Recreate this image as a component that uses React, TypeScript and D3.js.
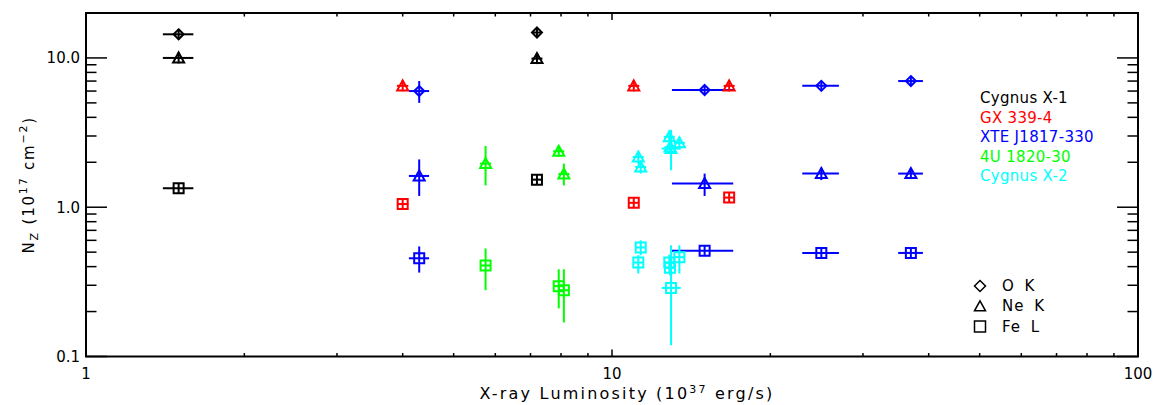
import React, { useEffect } from "react";
import * as d3 from "d3";

const sources = ["Cygnus X-1", "GX 339-4", "XTE J1817-330", "4U 1820-30", "Cygnus X-2"];
const sourceColors = ["#000000", "#ff0000", "#0000ff", "#00ff00", "#00ffff"];
const elementLabels = ["O K", "Ne K", "Fe L"];
const xTickLabels = ["1", "10", "100"];
const yTickLabels = ["0.1", "1.0", "10.0"];

// Row: [sourceIndex, L, Llo, Lhi, N, Nlo, Nhi]
type Row = [number, number, number, number, number, number, number];

const oxygenK: Row[] = [
  [0, 1.5, 1.4, 1.6, 14.4, 14.4, 14.4],
  [0, 7.2, 7.2, 7.2, 14.8, 14.8, 14.8],
  [2, 4.3, 4.11, 4.49, 6.0, 5.0, 7.0],
  [2, 15.0, 13.0, 17.0, 6.1, 5.9, 6.3],
  [2, 25.0, 23.0, 27.0, 6.5, 6.4, 6.6],
  [2, 37.0, 35.0, 39.0, 7.0, 6.9, 7.1],
];

const neonK: Row[] = [
  [0, 1.5, 1.4, 1.6, 10.0, 10.0, 10.0],
  [0, 7.2, 7.2, 7.2, 9.9, 9.9, 9.9],
  [1, 4.0, 3.9, 4.1, 6.5, 6.5, 6.5],
  [1, 11.0, 10.9, 11.1, 6.5, 6.5, 6.5],
  [1, 16.7, 16.6, 16.8, 6.5, 6.5, 6.5],
  [2, 4.3, 4.11, 4.49, 1.62, 1.19, 2.09],
  [2, 15.0, 13.0, 17.0, 1.44, 1.19, 1.68],
  [2, 25.0, 23.0, 27.0, 1.68, 1.52, 1.84],
  [2, 37.0, 35.0, 39.0, 1.68, 1.56, 1.82],
  [3, 5.75, 5.75, 5.75, 1.96, 1.4, 2.57],
  [3, 7.92, 7.92, 7.92, 2.37, 2.25, 2.5],
  [3, 8.1, 8.1, 8.1, 1.67, 1.4, 1.96],
  [4, 11.22, 11.22, 11.22, 2.17, 1.95, 2.35],
  [4, 11.34, 11.34, 11.34, 1.86, 1.68, 2.05],
  [4, 12.85, 12.85, 12.85, 2.96, 2.75, 3.2],
  [4, 12.89, 12.89, 12.89, 2.53, 2.35, 2.75],
  [4, 13.43, 13.43, 13.43, 2.7, 2.45, 2.95],
  [4, 12.95, 12.43, 13.51, 2.47, 1.77, 3.3],
];

const ironL: Row[] = [
  [0, 1.5, 1.4, 1.6, 1.34, 1.34, 1.34],
  [0, 7.2, 7.2, 7.2, 1.53, 1.53, 1.53],
  [1, 4.0, 3.9, 4.1, 1.05, 1.02, 1.08],
  [1, 11.0, 10.9, 11.1, 1.07, 1.03, 1.11],
  [1, 16.7, 16.6, 16.8, 1.16, 1.1, 1.22],
  [2, 4.3, 4.11, 4.49, 0.455, 0.365, 0.546],
  [2, 15.0, 13.0, 17.0, 0.51, 0.5, 0.52],
  [2, 25.0, 23.0, 27.0, 0.494, 0.485, 0.503],
  [2, 37.0, 35.0, 39.0, 0.494, 0.485, 0.503],
  [3, 5.75, 5.75, 5.75, 0.407, 0.278, 0.529],
  [3, 7.92, 7.92, 7.92, 0.296, 0.21, 0.384],
  [3, 8.1, 8.1, 8.1, 0.278, 0.169, 0.384],
  [4, 11.22, 11.22, 11.22, 0.426, 0.36, 0.477],
  [4, 11.34, 11.34, 11.34, 0.537, 0.477, 0.6],
  [4, 12.85, 12.85, 12.85, 0.426, 0.37, 0.48],
  [4, 12.89, 12.89, 12.89, 0.393, 0.35, 0.44],
  [4, 13.43, 13.43, 13.43, 0.463, 0.36, 0.556],
  [4, 12.95, 12.43, 13.51, 0.288, 0.119, 0.556],
];

const W = 1153;
const H = 405;
const M = { left: 86, right: 1138, top: 13, bottom: 356.5 };
const FONT = "'DejaVu Sans', sans-serif";

const diamond = (s: number) => `M0,${-s}L${s},0L0,${s}L${-s},0Z`;
const triangle = (s: number) => `M0,${-s}L${s},${s * 0.82}L${-s},${s * 0.82}Z`;
const square = (s: number) => `M${-s},${-s}H${s}V${s}H${-s}Z`;
const shapes = [diamond, triangle, square];

export default function App() {
  useEffect(() => {
    document.body.style.margin = "0";
  }, []);

  const x = d3.scaleLog().domain([1, 100]).range([M.left, M.right]);
  const y = d3.scaleLog().domain([0.1, 20]).range([M.bottom, M.top]);

  const xMajor = [1, 10, 100];
  const xMinor: number[] = [];
  [1, 10].forEach((d) => {
    for (let k = 2; k <= 9; k++) xMinor.push(d * k);
  });
  const yMajor = [0.1, 1, 10];
  const yMinor: number[] = [];
  [0.1, 1, 10].forEach((d) => {
    for (let k = 2; k <= 9; k++) if (d * k <= 20) yMinor.push(d * k);
  });

  const xLen = 7, xLenMinor = 3.5;
  const yLen = 21, yLenMinor = 10.5;

  const groups: Row[][] = [oxygenK, neonK, ironL];
  const symSize = [5, 5.5, 5];

  return (
    <svg width={W} height={H} style={{ position: "absolute", left: 0, top: 0, background: "#fff" }} fontFamily={FONT}>
      <rect x={0} y={0} width={W} height={H} fill="#fff" />
      {/* frame */}
      <rect x={M.left} y={M.top} width={M.right - M.left} height={M.bottom - M.top} fill="none" stroke="#000" strokeWidth={2} />
      {/* x ticks */}
      {xMajor.map((d) => (
        <g key={"xM" + d}>
          <line x1={x(d)} x2={x(d)} y1={M.bottom} y2={M.bottom - xLen} stroke="#000" strokeWidth={1.5} />
          <line x1={x(d)} x2={x(d)} y1={M.top} y2={M.top + xLen} stroke="#000" strokeWidth={1.5} />
        </g>
      ))}
      {xMinor.map((d) => (
        <g key={"xm" + d}>
          <line x1={x(d)} x2={x(d)} y1={M.bottom} y2={M.bottom - xLenMinor} stroke="#000" strokeWidth={1.5} />
          <line x1={x(d)} x2={x(d)} y1={M.top} y2={M.top + xLenMinor} stroke="#000" strokeWidth={1.5} />
        </g>
      ))}
      {yMajor.map((d) => (
        <g key={"yM" + d}>
          <line x1={M.left} x2={M.left + yLen} y1={y(d)} y2={y(d)} stroke="#000" strokeWidth={1.5} />
          <line x1={M.right} x2={M.right - yLen} y1={y(d)} y2={y(d)} stroke="#000" strokeWidth={1.5} />
        </g>
      ))}
      {yMinor.map((d) => (
        <g key={"ym" + d}>
          <line x1={M.left} x2={M.left + yLenMinor} y1={y(d)} y2={y(d)} stroke="#000" strokeWidth={1.5} />
          <line x1={M.right} x2={M.right - yLenMinor} y1={y(d)} y2={y(d)} stroke="#000" strokeWidth={1.5} />
        </g>
      ))}
      {/* tick labels */}
      {xMajor.map((d, i) => (
        <text key={"xl" + d} x={x(d)} y={379} textAnchor="middle" fontSize={15}>
          {xTickLabels[i]}
        </text>
      ))}
      {yMajor.map((d, i) => (
        <text key={"yl" + d} x={80} y={y(d) + 5.5} textAnchor="end" fontSize={15}>
          {yTickLabels[i]}
        </text>
      ))}
      {/* axis titles */}
      <text x={627} y={399} textAnchor="middle" fontSize={16} letterSpacing={2.2}>
        <tspan>X-ray Luminosity (10</tspan>
        <tspan dy={-6} fontSize={11}>37</tspan>
        <tspan dy={6}> erg/s)</tspan>
      </text>
      <text transform={`translate(34,${(M.top + M.bottom) / 2}) rotate(-90)`} textAnchor="middle" fontSize={15} letterSpacing={1.8}>
        <tspan>N</tspan>
        <tspan dy={4} fontSize={11}>Z</tspan>
        <tspan dy={-4}> (10</tspan>
        <tspan dy={-7} fontSize={11}>17</tspan>
        <tspan dy={7}> cm</tspan>
        <tspan dy={-7} fontSize={11}>−2</tspan>
        <tspan dy={7}>)</tspan>
      </text>
      {/* data */}
      {groups.map((rows, gi) => (
        <g key={"g" + gi}>
          {rows.map((r, i) => {
            const [si, L, Llo, Lhi, N, Nlo, Nhi] = r;
            const cx = x(L);
            const cy = y(N);
            const s = symSize[gi];
            const col = sourceColors[si];
            return (
              <g key={i} stroke={col} strokeWidth={2} fill="none">
                <line x1={Math.min(x(Llo), cx - s)} x2={Math.max(x(Lhi), cx + s)} y1={cy} y2={cy} />
                <line x1={cx} x2={cx} y1={Math.max(y(Nlo), cy + s)} y2={Math.min(y(Nhi), cy - s)} />
                <path d={shapes[gi](s)} transform={`translate(${cx},${cy})`} />
              </g>
            );
          })}
        </g>
      ))}
      {/* source legend */}
      {sources.map((s, i) => (
        <text key={s} x={980} y={103 + i * 19.6} fill={sourceColors[i]} fontSize={15} letterSpacing={0.3}>
          {s}
        </text>
      ))}
      {/* symbol legend */}
      {elementLabels.map((e, i) => (
        <g key={e}>
          <path d={shapes[i](5.5)} transform={`translate(980,${286 + i * 20.3})`} fill="none" stroke="#000" strokeWidth={1.5} />
          <text x={1002} y={291 + i * 20.3} fontSize={15} letterSpacing={1} wordSpacing={4}>
            {e}
          </text>
        </g>
      ))}
    </svg>
  );
}
